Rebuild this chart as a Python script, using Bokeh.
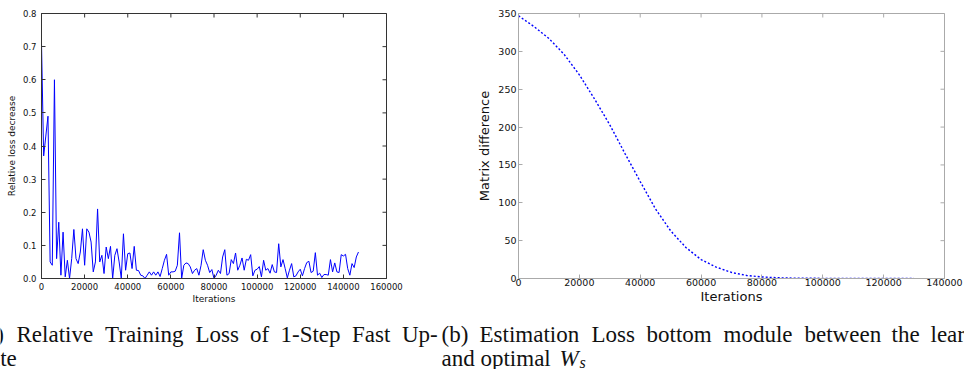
from bokeh.plotting import figure
from bokeh.layouts import column, row
from bokeh.models import Range1d, FixedTicker, ColumnDataSource
from bokeh.core.properties import value
from bokeh.embed import file_html
from bokeh.resources import INLINE
import math

# ---------------- data ----------------
# (a) relative training loss decrease, sampled every 1000 iterations
iters_a = list(range(0, 148000, 1000))
loss_a = [
    0.71, 0.37, 0.43, 0.49, 0.05, 0.04, 0.60, 0.06, 0.17, 0.01,
    0.14, 0.005, 0.055, 0.0, 0.06, 0.148, 0.06, 0.045, 0.08, 0.15,
    0.04, 0.15, 0.14, 0.11, 0.02, 0.05, 0.21, 0.05, 0.07, 0.015,
    0.095, 0.06, 0.097, 0.0, 0.07, 0.09, 0.05, 0.0, 0.135, 0.025,
    0.075, 0.077, 0.03, 0.097, 0.025, 0.024, 0.01, 0.008, 0.0, 0.01,
    0.02, 0.01, 0.02, 0.01, 0.02, 0.006, 0.03, 0.055, 0.073, 0.01,
    0.02, 0.02, 0.022, 0.04, 0.138, 0.0, 0.04, 0.047, 0.045, 0.035,
    0.015, 0.025, 0.03, 0.01, 0.04, 0.087, 0.055, 0.04, 0.018, 0.027,
    0.0, 0.01, 0.025, 0.015, 0.065, 0.087, 0.01, 0.015, 0.057, 0.045,
    0.077, 0.025, 0.04, 0.062, 0.025, 0.058, 0.055, 0.072, 0.008, 0.025,
    0.028, 0.036, 0.005, 0.055, 0.025, 0.03, 0.016, 0.042, 0.02, 0.018,
    0.105, 0.035, 0.057, 0.03, 0.002, 0.025, 0.045, 0.005, 0.008, 0.02,
    0.028, 0.008, 0.03, 0.048, 0.052, 0.018, 0.022, 0.078, 0.01, 0.016,
    0.003, 0.012, 0.012, 0.01, 0.057, 0.02, 0.047, 0.02, 0.018, 0.072,
    0.068, 0.073, 0.03, 0.01, 0.045, 0.033, 0.065, 0.08,
]
xticks_a = [0, 20000, 40000, 60000, 80000, 100000, 120000, 140000, 160000]
xlabels_a = ["0", "20000", "40000", "60000", "80000", "100000", "120000", "140000", "160000"]
yticks_a = [0.0, 0.1, 0.2, 0.3, 0.4, 0.5, 0.6, 0.7, 0.8]
ylabels_a = ["0.0", "0.1", "0.2", "0.3", "0.4", "0.5", "0.6", "0.7", "0.8"]

# (b) estimation loss (matrix difference)
iters_b = [0, 5000, 10000, 15000, 20000, 25000, 30000, 35000, 40000, 45000,
           50000, 55000, 60000, 65000, 70000, 75000, 80000, 85000, 90000, 95000,
           100000, 105000, 110000, 115000, 120000, 125000, 130000]
diff_b = [347, 333, 317, 296, 269, 237, 203, 165, 128, 92,
          63, 41, 25, 15, 8, 4, 2, 1, 0.5, 0.3,
          0.2, 0.1, 0.1, 0.1, 0.1, 0.1, 0.1]
xticks_b = [0, 20000, 40000, 60000, 80000, 100000, 120000, 140000]
xlabels_b = ["0", "20000", "40000", "60000", "80000", "100000", "120000", "140000"]
yticks_b = [0, 50, 100, 150, 200, 250, 300, 350]
ylabels_b = ["0", "50", "100", "150", "200", "250", "300", "350"]

# captions: (word, x position)
cap_a1 = [("(a)", -22), ("Relative", 16), ("Training", 104.5), ("Loss", 195), ("of", 249.5),
          ("1-Step", 280), ("Fast", 351.5), ("Up-", 401.5)]
cap_a2 = [("date", -22)]
cap_b1 = [("(b)", 441), ("Estimation", 479), ("Loss", 591), ("bottom", 646), ("module", 723),
          ("between", 804), ("the", 891), ("learned", 930)]
cap_b2 = [("and optimal", 441)]

SANS = "DejaVu Sans"
SERIF = "Liberation Serif"


def style_axes(p, xticks, xlabels, yticks, ylabels, tick_size, label_size,
               frame_color, tick_color, x_std, y_std, xl_std, yl_std):
    p.xgrid.visible = False
    p.ygrid.visible = False
    p.outline_line_color = frame_color
    p.outline_line_width = 1
    for ax, ticks, labels, std, lstd in ((p.xaxis[0], xticks, xlabels, x_std, xl_std),
                                          (p.yaxis[0], yticks, ylabels, y_std, yl_std)):
        ax.ticker = FixedTicker(ticks=ticks)
        ax.major_label_overrides = {t: l for t, l in zip(ticks, labels)}
        ax.major_tick_in = 4
        ax.major_tick_out = 0
        ax.minor_tick_line_color = None
        ax.major_tick_line_color = tick_color
        ax.axis_line_color = frame_color
        ax.major_label_text_font = SANS
        ax.major_label_text_font_size = tick_size
        ax.major_label_text_color = "#111111"
        ax.major_label_standoff = std
        ax.axis_label_text_font = SANS
        ax.axis_label_text_font_size = label_size
        ax.axis_label_text_font_style = "normal"
        ax.axis_label_text_color = "#111111"
        ax.axis_label_standoff = lstd
    # inward tick marks on the top and right frame edges (clipped half of a dash marker)
    p.scatter(x=xticks, y=[yticks[-1]] * len(xticks), marker="dash", size=8,
              angle=math.pi / 2, line_color=tick_color, line_width=1)
    p.scatter(x=[xticks[-1]] * len(yticks), y=yticks, marker="dash", size=8,
              line_color=tick_color, line_width=1)


# ---------------- figure (a) ----------------
pa = figure(width=470, height=310, output_backend="svg", toolbar_location=None,
            title_location=None,
            x_range=Range1d(0, 160000), y_range=Range1d(0, 0.8),
            min_border_left=41, min_border_right=84, min_border_top=8, min_border_bottom=32,
            background_fill_color="white", border_fill_color="white")
pa.line(x=iters_a, y=loss_a, line_color="#0000ff", line_width=1)
pa.xaxis.axis_label = "Iterations"
pa.yaxis.axis_label = "Relative loss decrease"
style_axes(pa, xticks_a, xlabels_a, yticks_a, ylabels_a, "8.5px", "9px",
           "#333333", "#333333", 4, 5, 1, 3)

# ---------------- figure (b) ----------------
pb = figure(width=494, height=310, output_backend="svg", toolbar_location=None,
            title_location=None,
            x_range=Range1d(0, 140000), y_range=Range1d(0, 350),
            min_border_left=48, min_border_right=20, min_border_top=13, min_border_bottom=31,
            background_fill_color="white", border_fill_color="white")
pb.line(x=iters_b, y=diff_b, line_color="#0000ff", line_width=1.4, line_dash="2 2")
pb.xaxis.axis_label = "Iterations"
pb.yaxis.axis_label = "Matrix difference"
style_axes(pb, xticks_b, xlabels_b, yticks_b, ylabels_b, "9.5px", "13px",
           "#aaaaaa", "#aaaaaa", 0, 2, 0, 3)

# ---------------- captions ----------------
pc = figure(width=964, height=59, output_backend="svg", toolbar_location=None,
            title_location=None,
            x_range=Range1d(0, 964), y_range=Range1d(59, 0),
            x_axis_location=None, y_axis_location=None,
            min_border=0, outline_line_color=None,
            background_fill_color="white", border_fill_color="white")
pc.xgrid.visible = False
pc.ygrid.visible = False


def words(items, y, size="23px", style="normal"):
    src = ColumnDataSource(dict(x=[w[1] for w in items], t=[w[0] for w in items],
                                y=[y] * len(items)))
    pc.text(x="x", y="y", text="t", source=src, text_font=value(SERIF),
            text_font_size=size, text_font_style=style, text_color="#111111",
            text_baseline="alphabetic", text_align="left")


words(cap_a1, 24)
words(cap_b1, 24)
words(cap_a2, 47.5)
words(cap_b2, 47.5)
words([("W", 559)], 47.5, style="italic")
words([("s", 579)], 51.5, size="16px", style="italic")

layout = column(row(pa, pb, spacing=0), pc, spacing=0)

open("out.html", "w").write(file_html(layout, INLINE))
